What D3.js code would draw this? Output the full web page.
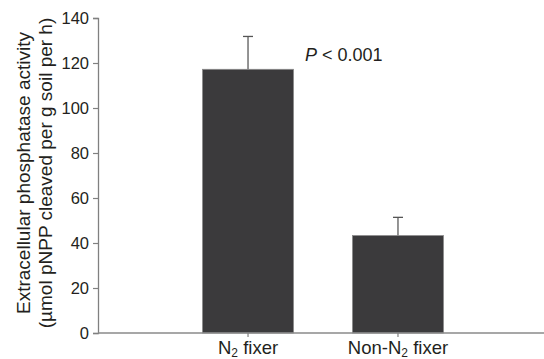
<!DOCTYPE html>
<html>
<head>
<script src="https://cdn.jsdelivr.net/npm/d3@7/dist/d3.min.js"></script>
<style>
body { margin:0; background:#fff; }
text { font-family: "Liberation Sans", Arial, sans-serif; fill:#231f20; }
</style>
</head>
<body>
<div id="chart"></div>
<script>
var categories = ["N2 fixer", "Non-N2 fixer"];
var means = [117.2, 43.3];
var errTops = [131.8, 51.4];
var yTicks = [0, 20, 40, 60, 80, 100, 120, 140];

var w = 544, h = 359;
var padLeft = 98, padTop = 18, base = 333;

var svg = d3.select("#chart").append("svg")
    .attr("width", w).attr("height", h);

var x = d3.scaleBand().domain(categories)
    .range([padLeft, 548]).paddingInner(0.393).paddingOuter(0.697);
var y = d3.scaleLinear().domain([0, 140]).range([base, padTop]);

// bars
svg.selectAll("rect.bar").data(categories).enter().append("rect")
    .attr("class", "bar")
    .attr("x", function(d) { return x(d); })
    .attr("width", x.bandwidth())
    .attr("y", function(d, i) { return y(means[i]); })
    .attr("height", function(d, i) { return base - y(means[i]); })
    .attr("fill", "#3b3a3c").attr("stroke", "#8a8a8a").attr("stroke-width", 0.8);

// error bars
var cx = function(d) { return x(d) + x.bandwidth() / 2; };
svg.selectAll("line.err").data(categories).enter().append("line")
    .attr("class", "err")
    .attr("x1", cx).attr("x2", cx)
    .attr("y1", function(d, i) { return y(means[i]); })
    .attr("y2", function(d, i) { return y(errTops[i]); })
    .attr("stroke", "#7a7a7a").attr("stroke-width", 1.6);
svg.selectAll("line.cap").data(categories).enter().append("line")
    .attr("class", "cap")
    .attr("x1", function(d) { return cx(d) - 5; })
    .attr("x2", function(d) { return cx(d) + 5; })
    .attr("y1", function(d, i) { return y(errTops[i]); })
    .attr("y2", function(d, i) { return y(errTops[i]); })
    .attr("stroke", "#555").attr("stroke-width", 1.3);

// y axis
var yAxis = svg.append("g").attr("transform", "translate(" + padLeft + ",0)")
    .call(d3.axisLeft(y).tickValues(yTicks).tickSize(5).tickPadding(4));
yAxis.select(".domain").attr("stroke", "#808080").attr("stroke-width", 1.3);
yAxis.selectAll(".tick line").attr("stroke", "#808080").attr("stroke-width", 1.2);
yAxis.selectAll(".tick text").style("font-size", "16.5px")
    .style("font-family", "'Liberation Sans', Arial, sans-serif").attr("fill", "#231f20");

// x axis
svg.append("line").attr("x1", padLeft).attr("x2", 544)
    .attr("y1", base).attr("y2", base)
    .attr("stroke", "#8a8a8a").attr("stroke-width", 1.3);
svg.selectAll("line.xtick").data(categories).enter().append("line")
    .attr("class", "xtick")
    .attr("x1", cx).attr("x2", cx).attr("y1", base).attr("y2", base + 4)
    .attr("stroke", "#808080").attr("stroke-width", 1.2);

var xl = svg.selectAll("text.xl").data(categories).enter().append("text")
    .attr("class", "xl")
    .attr("x", cx).attr("y", 354)
    .attr("text-anchor", "middle").style("font-size", "18.5px");
xl.each(function(d) {
  var t = d3.select(this);
  var parts = d.split("N2");
  t.append("tspan").text(parts[0] + "N");
  t.append("tspan").attr("dy", 3).style("font-size", "12px").text("2");
  t.append("tspan").attr("dy", -3).text(parts[1]);
});

// y label
var yl = svg.append("text").attr("transform", "translate(30,173) rotate(-90)")
    .attr("text-anchor", "middle").style("font-size", "19px");
yl.append("tspan").attr("x", 0).attr("dy", 0).text("Extracellular phosphatase activity");
yl.append("tspan").attr("x", 0).attr("dy", 21.5).text("(\u00b5mol pNPP cleaved per g soil per h)");

// p value
var p = svg.append("text").attr("x", 305).attr("y", 61).style("font-size", "18px");
p.append("tspan").style("font-style", "italic").text("P");
p.append("tspan").text(" < 0.001");
</script>
</body>
</html>
